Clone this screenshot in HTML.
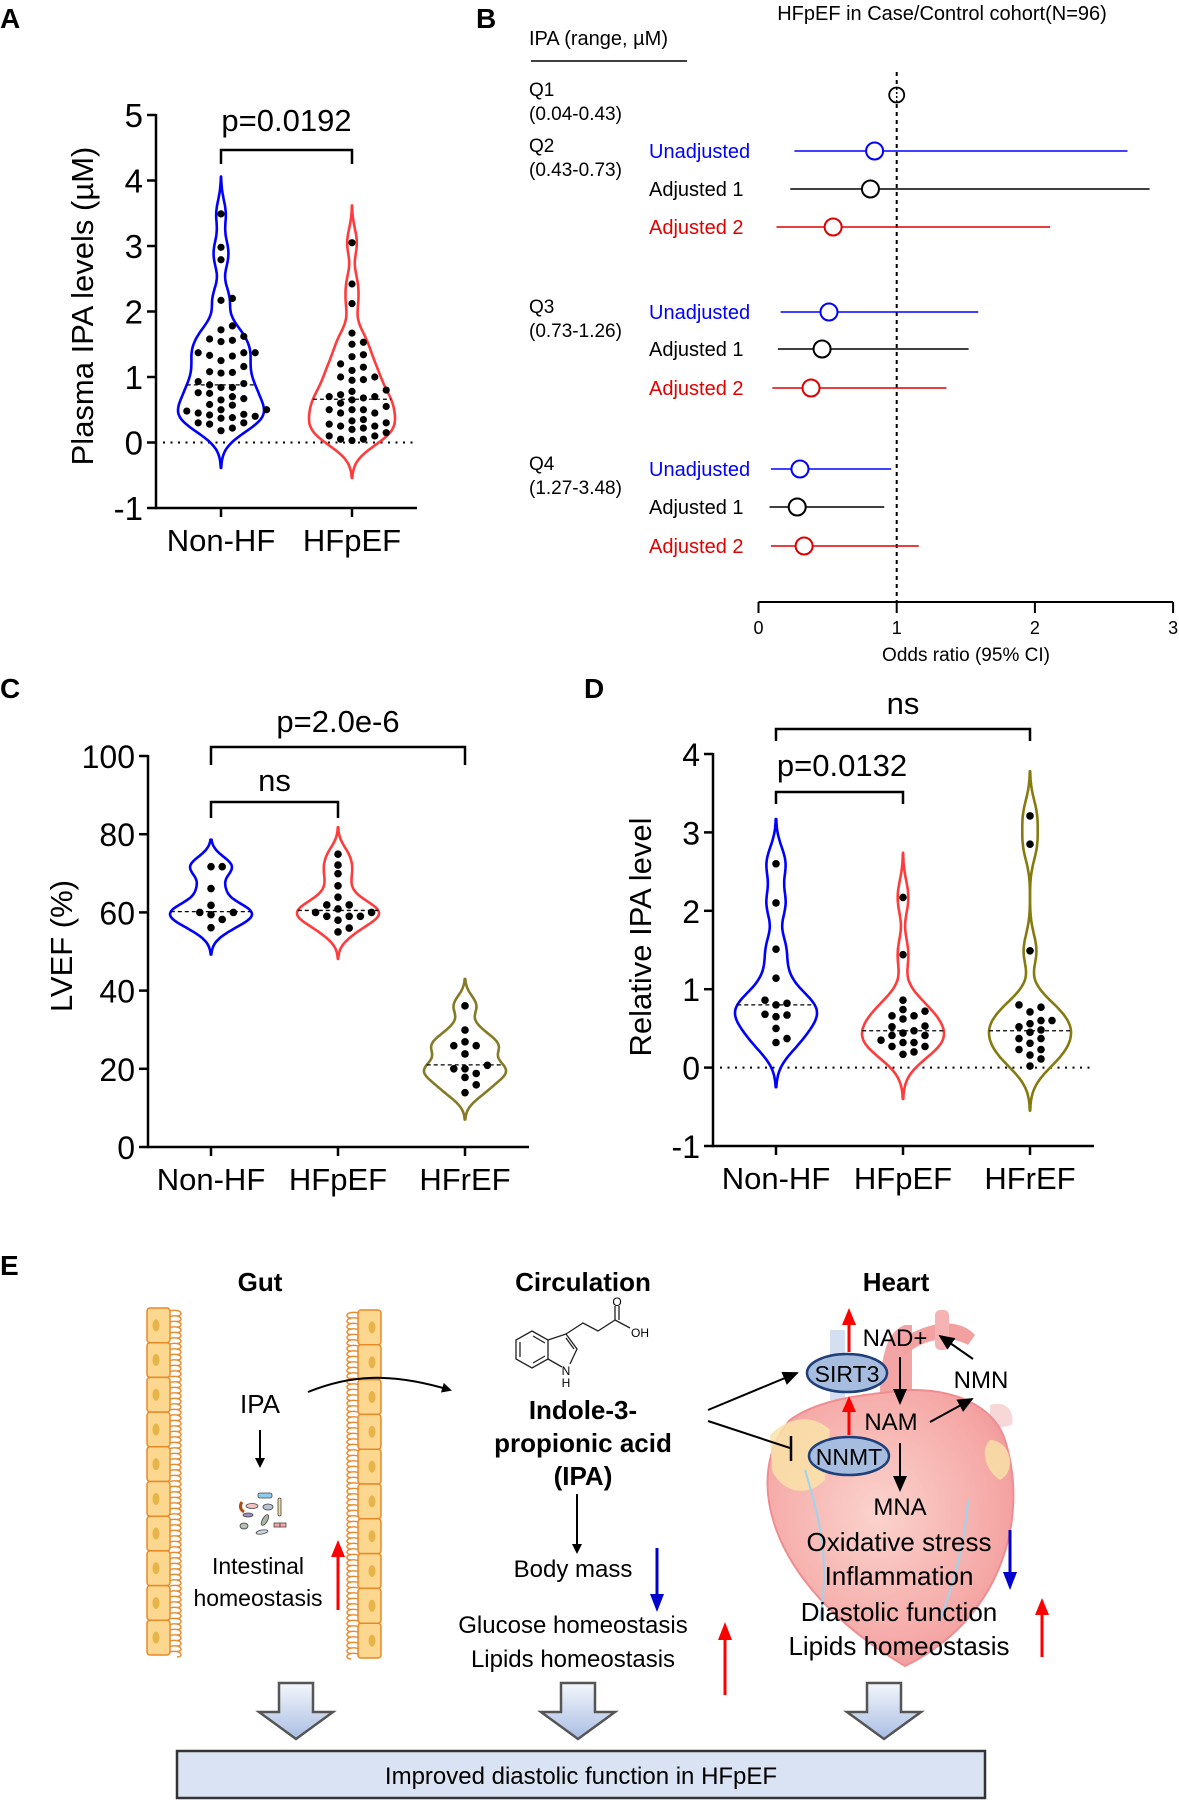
<!DOCTYPE html>
<html><head><meta charset="utf-8">
<style>
html,body{margin:0;padding:0;background:#fff;}
svg{display:block;font-family:"Liberation Sans",Arial,sans-serif;}
</style></head>
<body>
<svg id="fig" width="1179" height="1800" viewBox="0 0 1179 1800" xmlns="http://www.w3.org/2000/svg">
<defs>
<linearGradient id="bigArrow" x1="0" y1="0" x2="0" y2="1"><stop offset="0" stop-color="#f4f7fc"/><stop offset="1" stop-color="#a9bde3"/></linearGradient>
<radialGradient id="heartG" cx="0.45" cy="0.45" r="0.7"><stop offset="0" stop-color="#fbd3cd"/><stop offset="0.7" stop-color="#f5a8a6"/><stop offset="1" stop-color="#ee8f92"/></radialGradient>
<marker id="ah" markerWidth="10" markerHeight="10" refX="8" refY="5" orient="auto" markerUnits="userSpaceOnUse"><path d="M0,0 L10,5 L0,10 Z" fill="#000"/></marker>
<marker id="ahL" markerWidth="16" markerHeight="14" refX="14" refY="7" orient="auto" markerUnits="userSpaceOnUse"><path d="M0,0 L16,7 L0,14 Z" fill="#000"/></marker>
</defs>

<text x="0" y="28" font-size="28" font-weight="bold">A</text>
<text x="476" y="28" font-size="28" font-weight="bold">B</text>
<text x="0" y="698" font-size="28" font-weight="bold">C</text>
<text x="584" y="698" font-size="28" font-weight="bold">D</text>
<text x="0" y="1275" font-size="28" font-weight="bold">E</text>

<g id="pA"></g>
<g id="pB"></g>
<g id="pC"></g>
<g id="pD"></g>

<g>
  <text x="260" y="1291" font-size="26" font-weight="bold" text-anchor="middle">Gut</text>
  <text x="583" y="1291" font-size="26" font-weight="bold" text-anchor="middle">Circulation</text>
  <text x="896" y="1291" font-size="26" font-weight="bold" text-anchor="middle">Heart</text>
  <g id="gutWalls"></g>
  <text x="260" y="1413" font-size="26" text-anchor="middle">IPA</text>
  <line x1="260" y1="1430" x2="260" y2="1466" stroke="#000" stroke-width="2" marker-end="url(#ah)"/>
  <g stroke="#444" stroke-width="0.8">
    <rect x="258" y="1493" width="14" height="5" rx="2" fill="#8ccbea"/>
    <path d="M242,1502 q-4,6 2,10" fill="none" stroke="#b54d10" stroke-width="3"/>
    <ellipse cx="252" cy="1506" rx="6" ry="2.5" fill="#f3c1c1"/>
    <ellipse cx="268" cy="1507" rx="5" ry="3" fill="#b8c4d6"/>
    <rect x="278" y="1498" width="3" height="18" rx="1.5" fill="#f0d9a6"/>
    <ellipse cx="248" cy="1515" rx="5" ry="2" fill="#9b8ec2"/>
    <ellipse cx="265" cy="1520" rx="2.5" ry="6" fill="#aab7a0" transform="rotate(30 265 1520)"/>
    <ellipse cx="244" cy="1526" rx="4" ry="3" fill="#b8c0b0"/>
    <rect x="274" y="1523" width="6" height="4" fill="#f3a7a7"/><rect x="280" y="1523" width="6" height="4" fill="#f3a7a7"/>
    <ellipse cx="262" cy="1532" rx="6" ry="2" fill="#c8d6e8" transform="rotate(-10 262 1532)"/>
  </g>
  <text font-size="23" text-anchor="middle"><tspan x="258" y="1574">Intestinal</tspan><tspan x="258" y="1606">homeostasis</tspan></text>
  <line x1="338" y1="1610" x2="338" y2="1555" stroke="#ff0000" stroke-width="3"/>
  <path d="M331,1557 L338,1540 L345,1557 Z" fill="#ff0000"/>
  <path d="M308,1392 C350,1375 390,1372 450,1390" fill="none" stroke="#000" stroke-width="2" marker-end="url(#ah)"/>

  <g stroke="#222" stroke-width="1.3" fill="none">
    <path d="M532,1331 L548,1340 L548,1359 L532,1368 L516,1359 L516,1340 Z"/>
    <path d="M520,1342 L520,1357 M533,1336 L545,1343 M533,1363 L545,1356"/>
    <path d="M548,1340 L566,1334 L577,1349 L570,1364 M548,1359 L562,1367 M566,1338 L574,1349"/>
    <path d="M566,1334 L583,1323 L598,1331 L615,1320 L615,1306 M619,1320 L619,1306 M615,1320 L630,1328"/>
  </g>
  <text x="617" y="1306" font-size="12" text-anchor="middle">O</text>
  <text x="640" y="1337" font-size="12" text-anchor="middle">OH</text>
  <text x="566" y="1375" font-size="12" text-anchor="middle">N</text>
  <text x="566" y="1387" font-size="12" text-anchor="middle">H</text>

  <text font-size="26" font-weight="bold" text-anchor="middle"><tspan x="583" y="1419">Indole-3-</tspan><tspan x="583" y="1452">propionic acid</tspan><tspan x="583" y="1485">(IPA)</tspan></text>
  <line x1="577" y1="1494" x2="577" y2="1552" stroke="#000" stroke-width="2" marker-end="url(#ah)"/>
  <text x="573" y="1577" font-size="24" text-anchor="middle">Body mass</text>
  <line x1="657" y1="1548" x2="657" y2="1600" stroke="#0000cc" stroke-width="3"/>
  <path d="M650,1594 L657,1612 L664,1594 Z" fill="#0000cc"/>
  <text x="573" y="1633" font-size="24" text-anchor="middle">Glucose homeostasis</text>
  <text x="573" y="1667" font-size="24" text-anchor="middle">Lipids homeostasis</text>
  <line x1="725" y1="1695" x2="725" y2="1635" stroke="#ff0000" stroke-width="3"/>
  <path d="M718,1640 L725,1622 L732,1640 Z" fill="#ff0000"/>

  <g>
    <path d="M880,1395 C880,1350 890,1330 905,1325 L912,1325 L912,1395 Z" fill="#f3a4a4"/>
    <path d="M900,1340 C930,1320 960,1318 975,1335 L968,1345 C950,1335 925,1338 905,1355 Z" fill="#f2a0a0"/>
    <rect x="935" y="1310" width="14" height="40" rx="5" fill="#f6b3b3"/>
    <path d="M830,1330 L845,1330 L845,1400 L830,1400 Z" fill="#c9d8ee" opacity="0.8"/>
    <path d="M990,1405 C1005,1400 1015,1410 1012,1425 L990,1430 Z" fill="#f7d7d7"/>
    <path d="M790,1420 C745,1470 760,1580 905,1666 C1000,1620 1030,1520 1005,1440 C990,1395 930,1385 890,1392 C850,1396 815,1402 790,1420 Z" fill="url(#heartG)" stroke="#f08d90" stroke-width="2"/>
    <path d="M770,1435 C790,1415 815,1415 830,1430 L825,1480 C805,1500 780,1490 772,1470 Z" fill="#f9e3a8" opacity="0.85"/>
    <path d="M990,1440 C1010,1440 1018,1470 1000,1480 C985,1470 980,1450 990,1440 Z" fill="#f9e3a8" opacity="0.8"/>
    <path d="M805,1470 C820,1520 830,1560 820,1620" fill="none" stroke="#9ed4ee" stroke-width="2"/>
    <path d="M968,1500 C965,1540 955,1580 940,1620" fill="none" stroke="#9ed4ee" stroke-width="2"/>
  </g>
  <text x="895" y="1346" font-size="24" text-anchor="middle">NAD+</text>
  <line x1="849" y1="1352" x2="849" y2="1322" stroke="#ff0000" stroke-width="3"/>
  <path d="M842,1325 L849,1308 L856,1325 Z" fill="#ff0000"/>
  <ellipse cx="847" cy="1373" rx="40" ry="19" fill="#a7bde0" stroke="#1f3f78" stroke-width="2.5"/>
  <text x="847" y="1382" font-size="23" text-anchor="middle">SIRT3</text>
  <line x1="849" y1="1435" x2="849" y2="1410" stroke="#ff0000" stroke-width="3"/>
  <path d="M842,1412 L849,1396 L856,1412 Z" fill="#ff0000"/>
  <ellipse cx="849" cy="1456" rx="40" ry="19" fill="#a7bde0" stroke="#1f3f78" stroke-width="2.5"/>
  <text x="849" y="1465" font-size="23" text-anchor="middle">NNMT</text>
  <text x="891" y="1430" font-size="24" text-anchor="middle">NAM</text>
  <text x="981" y="1388" font-size="24" text-anchor="middle">NMN</text>
  <text x="900" y="1515" font-size="24" text-anchor="middle">MNA</text>
  <line x1="900" y1="1357" x2="900" y2="1403" stroke="#000" stroke-width="2" marker-end="url(#ahL)"/>
  <line x1="900" y1="1443" x2="900" y2="1490" stroke="#000" stroke-width="2" marker-end="url(#ahL)"/>
  <line x1="930" y1="1422" x2="972" y2="1399" stroke="#000" stroke-width="2" marker-end="url(#ahL)"/>
  <line x1="973" y1="1359" x2="940" y2="1336" stroke="#000" stroke-width="2" marker-end="url(#ahL)"/>
  <line x1="708" y1="1410" x2="797" y2="1373" stroke="#000" stroke-width="2" marker-end="url(#ahL)"/>
  <line x1="708" y1="1421" x2="790" y2="1448" stroke="#000" stroke-width="2"/>
  <line x1="791" y1="1436" x2="791" y2="1461" stroke="#000" stroke-width="2.5"/>
  <text font-size="26" text-anchor="middle"><tspan x="899" y="1551">Oxidative stress</tspan><tspan x="899" y="1585">Inflammation</tspan><tspan x="899" y="1621">Diastolic function</tspan><tspan x="899" y="1655">Lipids homeostasis</tspan></text>
  <line x1="1010" y1="1530" x2="1010" y2="1576" stroke="#0000cc" stroke-width="3"/>
  <path d="M1003,1572 L1010,1590 L1017,1572 Z" fill="#0000cc"/>
  <line x1="1042" y1="1657" x2="1042" y2="1612" stroke="#ff0000" stroke-width="3"/>
  <path d="M1035,1615 L1042,1598 L1049,1615 Z" fill="#ff0000"/>

  <g id="bigArrows"></g>
  <rect x="177" y="1751" width="808" height="47" fill="#dae3f3" stroke="#333" stroke-width="2.5"/>
  <text x="581" y="1784" font-size="24" text-anchor="middle">Improved diastolic function in HFpEF</text>
</g>
</svg>
<script>
const aCats = ["Non-HF","HFpEF"];
const aNonHF = [3.49,2.98,2.79,2.17,2.2,1.78,1.72,1.56,1.58,1.62,1.54,1.33,1.37,1.37,1.37,1.32,1.25,1.16,1.08,1.06,1.07,0.93,0.9,0.88,0.84,0.84,0.76,0.75,0.65,0.67,0.7,0.58,0.57,0.48,0.5,0.5,0.43,0.42,0.38,0.4,0.45,0.37,0.28,0.3,0.3,0.22,0.18];
const aHFpEF = [3.05,2.42,2.12,1.67,1.53,1.5,1.34,1.31,1.2,1.15,1.1,1.0,1.0,0.96,0.95,0.8,0.78,0.73,0.7,0.7,0.68,0.65,0.6,0.5,0.5,0.55,0.5,0.45,0.45,0.35,0.28,0.3,0.25,0.25,0.2,0.22,0.15,0.1,0.1,0.05,0.05,0.03,0.33];
const aMedians = [0.88,0.66];
const aTicks = [-1,0,1,2,3,4,5];
const bRowLabels = ["Unadjusted","Adjusted 1","Adjusted 2","Unadjusted","Adjusted 1","Adjusted 2","Unadjusted","Adjusted 1","Adjusted 2"];
const bOR = [0.84,0.81,0.54,0.51,0.46,0.38,0.30,0.28,0.33];
const bLow = [0.26,0.23,0.13,0.16,0.14,0.10,0.09,0.08,0.09];
const bHigh = [2.67,2.83,2.11,1.59,1.52,1.36,0.96,0.91,1.16];
const bQuartiles = ["Q1","Q2","Q3","Q4"];
const bRanges = ["(0.04-0.43)","(0.43-0.73)","(0.73-1.26)","(1.27-3.48)"];
const bTicks = [0,1,2,3];
const cCats = ["Non-HF","HFpEF","HFrEF"];
const cNonHF = [71.7,71.7,66.1,61.8,60,60,59.4,58.2,56.1];
const cHFpEF = [74.9,72.1,69.9,66.8,63.9,61.9,61.9,60.9,60,60,59,59,59,58,56,55];
const cHFrEF = [36.1,29.9,26.9,25.9,25.9,23.8,20.9,20,20,18.8,17.8,15.9,13.9];
const cMedians = [60.2,60.5,21];
const cTicks = [0,20,40,60,80,100];
const dCats = ["Non-HF","HFpEF","HFrEF"];
const dNonHF = [2.6,2.1,1.51,1.14,0.86,0.82,0.8,0.68,0.67,0.65,0.5,0.37,0.32];
const dHFpEF = [2.17,1.44,0.86,0.74,0.72,0.66,0.66,0.62,0.53,0.52,0.47,0.44,0.41,0.41,0.35,0.32,0.32,0.27,0.27,0.2,0.17];
const dHFrEF = [3.21,2.85,1.49,0.8,0.77,0.71,0.6,0.6,0.56,0.52,0.48,0.45,0.37,0.37,0.31,0.23,0.23,0.16,0.11,0.02];
const dMedians = [0.8,0.47,0.47];
const dTicks = [-1,0,1,2,3,4];

const NS = "http://www.w3.org/2000/svg";
function mk(parent, tag, attrs, text){
  const e = document.createElementNS(NS, tag);
  for (const k in attrs) e.setAttribute(k, attrs[k]);
  if (text !== undefined) e.textContent = text;
  parent.appendChild(e);
  return e;
}

function violinPanel(g, cfg){
  const y = v => cfg.y0 + (v - cfg.vmin) / (cfg.vmax - cfg.vmin) * (cfg.y1 - cfg.y0);
  const ax = mk(g,'line',{x1:cfg.axX,y1:y(cfg.vmax)-1,x2:cfg.axX,y2:y(cfg.vmin)+1.2,stroke:'#000','stroke-width':2.5});
  
  
  const xa = mk(g,'line',{x1:cfg.axX,y1:y(cfg.vmin),x2:cfg.axEnd,y2:y(cfg.vmin),stroke:'#000','stroke-width':2.5});
  
  
  cfg.ticks.forEach(t=>{
    mk(g,'line',{x1:cfg.axX-9,y1:y(t),x2:cfg.axX,y2:y(t),stroke:'#000','stroke-width':2.5});
    const tl = mk(g,'text',{x:cfg.axX-13,y:y(t)+12,'font-size':cfg.tickFs,'text-anchor':'end'},String(t));
    
    
  });
  if (cfg.zeroLine){
    const zl = mk(g,'line',{x1:cfg.axX+7,y1:y(0),x2:cfg.axEnd,y2:y(0),stroke:'#000','stroke-width':2,'stroke-dasharray':'2,5.5'});
    
    
  }
  const yt = mk(g,'text',{x:0,y:0,'font-size':cfg.titleFs,'text-anchor':'middle',transform:`translate(${cfg.titleX},${cfg.titleY}) rotate(-90)`},cfg.title);
  
  
  cfg.cats.forEach((c,i)=>{
    const cx = cfg.xs[i];
    mk(g,'line',{x1:cx,y1:y(cfg.vmin),x2:cx,y2:y(cfg.vmin)+9,stroke:'#000','stroke-width':2.5});
    const cl = mk(g,'text',{x:cx,y:y(cfg.vmin)+43,'font-size':cfg.catFs,'text-anchor':'middle'},c);
    
    
    const vals = cfg.series[i], h = cfg.bw;
    const lo = Math.min(...vals)-3*h, hi = Math.max(...vals)+3*h;
    const N = 120, dens = [];
    for (let k=0;k<=N;k++){
      const v = lo + (hi-lo)*k/N;
      let s=0; vals.forEach(d=>{s+=Math.exp(-0.5*((v-d)/h)**2);});
      dens.push([v,s]);
    }
    const mx = Math.max(...dens.map(d=>d[1]));
    const wf = s => Math.pow(s/mx, cfg.gamma||1)*cfg.maxW;
    let right = dens.map(d=>`${(cx + wf(d[1])).toFixed(1)},${y(d[0]).toFixed(1)}`);
    let left = dens.slice().reverse().map(d=>`${(cx - wf(d[1])).toFixed(1)},${y(d[0]).toFixed(1)}`);
    const vp = mk(g,'polygon',{points:right.concat(left).join(' '),fill:'none',stroke:cfg.colors[i],'stroke-width':2.6,'stroke-linejoin':'round'});
    
    
    const med = cfg.medians[i];
    let md = 0; vals.forEach(d=>{md+=Math.exp(-0.5*((med-d)/h)**2);});
    const mw = wf(md);
    const ml = mk(g,'line',{x1:cx-mw,y1:y(med),x2:cx+mw,y2:y(med),stroke:'#000','stroke-width':1.3,'stroke-dasharray':'4,3'});
    
    
    const placed = [];
    const sorted = vals.slice().sort((a,b)=>a-b);
    const r = cfg.r, step = cfg.step;
    sorted.forEach(v=>{
      const py = y(v);
      let off = 0;
      for (let k=0;k<30;k++){
        const cand = k===0?0:(k%2? Math.ceil(k/2)*step : -Math.ceil(k/2)*step);
        const ok = placed.every(p=> (p[0]-(cx+cand))**2 + (p[1]-py)**2 >= (2*r+0.8)**2);
        if (ok){off=cand;break;}
      }
      placed.push([cx+off,py]);
      const dot = mk(g,'circle',{cx:cx+off,cy:py,r:r,fill:'#000'});
      
      
    });
  });
  cfg.brackets.forEach(b=>{
    const x1 = cfg.xs[b.a], x2 = cfg.xs[b.b];
    const br = mk(g,'path',{d:`M${x1},${b.y+b.drop} L${x1},${b.y} L${x2},${b.y} L${x2},${b.y+b.drop}`,fill:'none',stroke:'#000','stroke-width':2.5});
    
    
    const bt = mk(g,'text',{x:b.tx!==undefined?b.tx:(x1+x2)/2,y:b.ty,'font-size':cfg.catFs,'text-anchor':'middle'},b.label);
    
    
  });
}

violinPanel(document.getElementById('pA'),{
  vmin:-1,vmax:5,y0:508,y1:115,axX:156,axEnd:417,ticks:aTicks,tickFs:33,catFs:31,titleFs:31,
  title:"Plasma IPA levels (\u00b5M)",titleX:93,titleY:306,cats:aCats,xs:[221,352],
  series:[aNonHF,aHFpEF],medians:aMedians,colors:['#0000ff','#ff3b3b'],bw:0.19,maxW:43,gamma:0.8,r:3.6,step:11.4,zeroLine:true,
  brackets:[{a:0,b:1,y:150,drop:14,ty:131,label:"p=0.0192"}]
});
violinPanel(document.getElementById('pC'),{
  vmin:0,vmax:100,y0:1147,y1:756,axX:148,axEnd:529,ticks:cTicks,tickFs:32,catFs:31,titleFs:31,
  title:"LVEF (%)",titleX:72,titleY:946,cats:cCats,xs:[211,338,465],
  series:[cNonHF,cHFpEF,cHFrEF],medians:cMedians,colors:['#0000ff','#ff3b3b','#857a25'],bw:2.3,maxW:41,gamma:0.8,r:3.8,step:11.2,zeroLine:false,
  brackets:[{a:0,b:2,y:747,drop:18,ty:732,label:"p=2.0e-6"},{a:0,b:1,y:802,drop:16,ty:791,label:"ns"}]
});
violinPanel(document.getElementById('pD'),{
  vmin:-1,vmax:4,y0:1146,y1:754,axX:713,axEnd:1094,ticks:dTicks,tickFs:32,catFs:31,titleFs:31,
  title:"Relative IPA level",titleX:651,titleY:937,cats:dCats,xs:[776,903,1030],
  series:[dNonHF,dHFpEF,dHFrEF],medians:dMedians,colors:['#0000ff','#ff3b3b','#857a10'],bw:0.19,maxW:41,gamma:0.8,r:3.8,step:11,zeroLine:true,
  brackets:[{a:0,b:2,y:729,drop:12,ty:714,label:"ns"},{a:0,b:1,y:792,drop:12,ty:776,tx:842,label:"p=0.0132"}]
});

(function(){
  const g = document.getElementById('pB');
  const x = v => 758.5 + v*138.2;
  const rowY = [151,189,227,312,349,388,469,507,546];
  const colors = ['#0000ff','#000','#e00000'];
  mk(g,'text',{x:942,y:20,'font-size':20,'text-anchor':'middle'},"HFpEF in Case/Control cohort(N=96)");
  mk(g,'text',{x:529,y:45,'font-size':20},"IPA (range, \u00b5M)");
  mk(g,'line',{x1:531,y1:61,x2:687,y2:61,stroke:'#000','stroke-width':1.5});
  const qY = [95,151,312,469];
  bQuartiles.forEach((q,i)=>{
    const t = mk(g,'text',{'font-size':19},'');
    
    
    mk(t,'tspan',{x:529,y:qY[i]+1},q);
    mk(t,'tspan',{x:529,y:qY[i]+25},bRanges[i]);
  });
  const ref = mk(g,'line',{x1:x(1),y1:72,x2:x(1),y2:602,stroke:'#000','stroke-width':2,'stroke-dasharray':'4,4'});
  
  
  const q1 = mk(g,'circle',{cx:x(1),cy:95,r:7.5,fill:'#fff',stroke:'#000','stroke-width':1.8});
  
  
  mk(g,'line',{x1:x(1),y1:88,x2:x(1),y2:102,stroke:'#000','stroke-width':1.5,'stroke-dasharray':'2,2'});
  bRowLabels.forEach((lab,i)=>{
    const c = colors[i%3];
    const t = mk(g,'text',{x:649,y:rowY[i]+7,'font-size':20,fill:c},lab);
    
    
    const l = mk(g,'line',{x1:x(bLow[i]),y1:rowY[i],x2:x(bHigh[i]),y2:rowY[i],stroke:c,'stroke-width':1.6});
    
    
    const p = mk(g,'circle',{cx:x(bOR[i]),cy:rowY[i],r:8.5,fill:'#fff',stroke:c,'stroke-width':2});
    
    
  });
  const ax = mk(g,'line',{x1:x(0),y1:602,x2:x(3),y2:602,stroke:'#000','stroke-width':2});
  
  
  bTicks.forEach(t=>{
    mk(g,'line',{x1:x(t),y1:602,x2:x(t),y2:613,stroke:'#000','stroke-width':2});
    const tl = mk(g,'text',{x:x(t),y:634,'font-size':18,'text-anchor':'middle'},String(t));
    
    
  });
  const xt = mk(g,'text',{x:966,y:661,'font-size':19,'text-anchor':'middle'},"Odds ratio (95% CI)");
  
  
})();

(function(){
  const g = document.getElementById('gutWalls');
  function wall(bx, villiLeft, top, bottom){
    const n = 10, hgt = (bottom-top)/n;
    for (let i=0;i<n;i++){
      const yy = top + i*hgt;
      mk(g,'rect',{x:bx,y:yy,width:23,height:hgt,rx:3,fill:'#fcd78f',stroke:'#e8892a','stroke-width':1.5});
      mk(g,'ellipse',{cx:villiLeft?bx+14:bx+9,cy:yy+hgt/2,rx:3.5,ry:6,fill:'#e7b44a'});
    }
    for (let yy=top+3; yy<bottom-2; yy+=5.5){
      const d = villiLeft ? `M${bx},${yy} C${bx-12},${yy-3} ${bx-14},${yy+5} ${bx-7},${yy+5}` : `M${bx+23},${yy} C${bx+35},${yy-3} ${bx+37},${yy+5} ${bx+30},${yy+5}`;
      mk(g,'path',{d:d,fill:'none',stroke:'#e8892a','stroke-width':1.4});
    }
  }
  wall(147,false,1308,1655);
  wall(358,true,1310,1658);
  const ba = document.getElementById('bigArrows');
  [296,578,884].forEach(c=>{
    const a = mk(ba,'polygon',{points:`${c-17},1683 ${c+17},1683 ${c+17},1712 ${c+37},1712 ${c},1739 ${c-37},1712 ${c-17},1712`,fill:'url(#bigArrow)',stroke:'#555','stroke-width':2.5,'stroke-linejoin':'miter'});
    
    
  });
})();
</script>
</body></html>
